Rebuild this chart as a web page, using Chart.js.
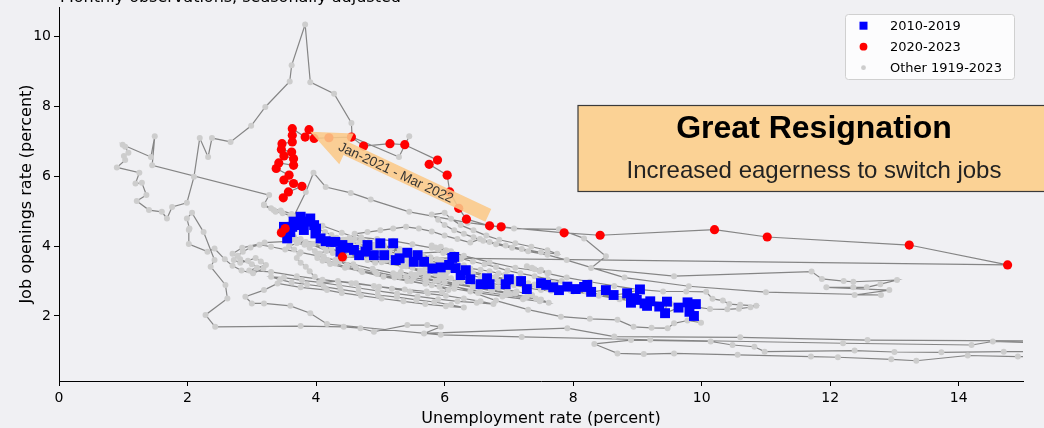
<!DOCTYPE html>
<html>
<head>
<meta charset="utf-8">
<script src="https://cdn.jsdelivr.net/npm/chart.js@4.4.0/dist/chart.umd.min.js"></script>
<style>
  html, body { margin: 0; padding: 0; background: #f0f0f3; }
</style>
</head>
<body>
<canvas id="myChart" width="1044" height="428"></canvas>
<script>
// tick labels
const xTickValues = [0, 2, 4, 6, 8, 10, 12, 14];
const yTickValues = [2, 4, 6, 8, 10];

// [unemployment rate, job openings rate], monthly
const other1919to1945 = [
  [5.45, 7.14], [5.29, 6.55], [4.56, 7.12], [4.55, 7.52], [4.28, 8.36], [3.91, 8.69], [3.83, 10.34],
  [3.62, 9.17], [3.59, 8.71], [3.21, 7.98], [2.99, 7.44], [2.67, 6.98], [2.38, 7.09], [2.32, 6.55],
  [2.19, 7.09], [2.10, 5.98], [1.99, 5.24], [1.76, 5.12], [1.68, 4.79], [1.60, 4.98], [1.40, 5.03],
  [1.21, 5.29], [1.36, 5.46], [1.29, 5.81], [1.19, 5.79], [1.25, 6.10], [0.90, 6.25], [1.03, 6.46],
  [1.01, 6.58], [1.08, 6.67], [1.03, 6.84], [0.99, 6.90], [1.43, 6.55], [1.49, 7.14], [1.45, 6.31],
  [3.27, 5.46], [3.19, 5.19], [3.34, 5.03], [3.65, 4.84], [3.84, 5.55], [3.96, 6.10], [4.15, 5.69],
  [4.54, 5.52], [4.85, 5.33], [5.45, 4.98], [6.36, 4.67], [7.08, 4.50], [7.78, 4.48], [8.17, 4.22],
  [8.51, 3.71], [8.28, 3.37], [9.57, 3.14], [11.71, 3.27], [11.87, 3.06], [12.21, 3.00], [12.36, 2.98],
  [13.04, 3.03], [12.78, 2.91], [12.57, 2.82], [12.36, 2.82], [11.94, 2.82], [12.92, 2.74], [12.38, 2.60],
  [12.79, 2.60], [11.00, 2.68], [9.80, 2.85], [8.80, 3.10], [7.90, 3.60], [7.60, 3.75], [7.30, 3.85],
  [7.05, 3.95], [6.80, 4.05], [6.60, 4.15], [6.45, 4.25], [6.30, 4.35], [6.15, 4.45], [6.00, 4.60],
  [5.90, 4.75], [5.80, 4.90], [6.00, 4.95], [6.10, 4.78], [6.25, 4.60], [6.45, 4.45], [6.65, 4.30],
  [6.85, 4.18], [7.10, 4.08], [7.35, 3.98], [7.60, 3.88], [7.75, 3.78], [7.50, 3.82], [7.20, 3.92],
  [6.95, 4.02], [6.70, 4.12], [6.55, 4.20], [6.40, 4.10], [6.20, 4.20], [6.00, 4.30], [5.80, 4.42],
  [5.60, 4.50], [5.40, 4.55], [5.20, 4.50], [5.00, 4.45], [4.80, 4.40], [4.60, 4.35], [4.70, 4.25],
  [4.95, 4.20], [5.20, 4.15], [5.50, 4.05], [5.80, 3.95], [6.10, 3.85], [5.60, 3.80], [4.90, 3.95],
  [4.30, 4.05], [3.70, 4.15], [3.20, 4.10], [2.85, 3.95], [2.70, 3.78], [2.82, 3.62], [3.00, 3.48],
  [3.18, 3.36], [3.02, 3.22], [2.84, 3.30], [2.70, 3.44], [2.58, 3.62], [2.42, 3.93], [2.31, 3.84],
  [2.02, 4.06], [2.02, 4.46], [2.03, 4.50], [1.99, 4.79], [2.07, 4.95], [2.25, 4.40], [2.42, 3.60],
  [2.36, 3.41], [2.59, 2.89], [2.62, 2.50], [2.28, 2.03], [2.43, 1.69], [3.76, 1.71], [4.43, 1.69],
  [4.69, 1.65], [4.90, 1.55], [5.42, 1.74], [5.73, 1.74], [5.94, 1.69], [5.68, 1.50], [7.91, 1.65],
  [8.64, 1.41], [10.60, 1.39], [12.58, 1.31], [15.80, 1.28], [19.50, 1.00], [24.90, 0.58], [23.00, 0.70],
  [18.50, 0.95], [16.00, 0.99], [14.70, 0.98], [13.73, 0.96], [13.00, 0.97], [12.38, 1.01], [10.98, 0.98],
  [10.82, 1.12], [10.48, 1.17], [10.14, 1.27], [8.90, 1.31], [8.33, 1.20], [8.69, 0.93], [9.10, 0.91],
  [9.57, 0.93], [10.56, 0.89], [11.70, 0.84], [12.12, 0.82], [12.95, 0.76], [13.34, 0.72], [14.14, 0.87],
  [14.92, 0.84], [17.50, 0.80], [19.00, 0.92], [17.00, 1.14], [14.53, 1.27], [14.20, 1.17], [12.20, 1.22],
  [9.20, 1.32], [7.20, 1.40], [5.94, 1.46], [4.17, 1.77], [3.91, 2.08], [3.60, 2.29], [3.19, 2.36],
  [3.00, 2.36], [2.90, 2.55], [3.19, 2.74], [3.40, 2.93], [3.76, 2.82], [4.17, 2.74]
];

const other1946to1979 = [
  [4.40, 2.66], [4.70, 2.58], [5.02, 2.50], [5.36, 2.42], [5.70, 2.34], [6.02, 2.28], [6.30, 2.24],
  [6.10, 2.32], [5.84, 2.40], [5.56, 2.46], [5.26, 2.54], [4.96, 2.60], [4.66, 2.68], [4.38, 2.76],
  [4.12, 2.84], [3.86, 2.90], [3.62, 2.96], [3.44, 3.04], [3.30, 3.12], [3.50, 3.10], [3.78, 3.02],
  [4.06, 2.96], [4.36, 2.88], [4.66, 2.80], [4.96, 2.72], [5.26, 2.64], [5.58, 2.56], [5.90, 2.48],
  [6.20, 2.42], [6.50, 2.38], [6.76, 2.34], [6.56, 2.42], [6.30, 2.50], [6.02, 2.58], [5.74, 2.64],
  [5.46, 2.70], [5.18, 2.78], [4.90, 2.86], [4.62, 2.94], [4.34, 3.00], [4.05, 2.95], [3.98, 3.12],
  [3.90, 3.28], [3.84, 3.41], [3.76, 3.52], [3.70, 3.66], [3.74, 3.78], [3.66, 3.90], [3.58, 4.00],
  [3.70, 4.08], [3.82, 4.04], [3.90, 3.95], [3.98, 3.86], [4.06, 3.78], [4.02, 3.66], [4.10, 3.58],
  [4.22, 3.49], [4.45, 3.38], [4.72, 3.26], [5.05, 3.12], [5.42, 3.00], [5.80, 2.88], [6.15, 2.78],
  [6.52, 2.66], [6.90, 2.56], [7.22, 2.48], [7.48, 2.42], [7.62, 2.38], [7.50, 2.47], [7.28, 2.55],
  [7.02, 2.63], [6.74, 2.72], [6.45, 2.82], [6.18, 2.90], [5.86, 3.00], [5.52, 3.10], [5.20, 3.22],
  [4.88, 3.35], [4.58, 3.48], [4.30, 3.60], [4.02, 3.72], [3.76, 3.82], [3.52, 3.90], [3.30, 3.98],
  [3.12, 4.04], [2.98, 3.96], [2.86, 3.84], [2.78, 3.72], [2.72, 3.60], [2.82, 3.52], [2.94, 3.58],
  [3.06, 3.66], [3.14, 3.56], [3.22, 3.46], [3.08, 3.38], [2.96, 3.30], [3.30, 3.26], [3.70, 3.14],
  [4.10, 3.04], [4.55, 2.94], [4.98, 2.84], [5.38, 2.76], [5.72, 2.70], [5.96, 2.68], [6.06, 2.74],
  [5.92, 2.84], [5.70, 2.92], [5.48, 3.00], [5.22, 3.10], [4.95, 3.20], [4.70, 3.30], [4.48, 3.40],
  [4.30, 3.50], [4.18, 3.60], [4.12, 3.70], [4.04, 3.78], [4.16, 3.86], [4.26, 3.80], [4.34, 3.72],
  [4.44, 3.64], [4.36, 3.56], [4.48, 3.46], [4.62, 3.38], [4.92, 3.26], [5.30, 3.12], [5.72, 2.98],
  [6.15, 2.84], [6.55, 2.70], [6.95, 2.60], [7.25, 2.52], [7.42, 2.50], [7.36, 2.60], [7.12, 2.70],
  [6.84, 2.80], [6.55, 2.90], [6.26, 2.98], [5.98, 3.06], [5.72, 3.14], [5.48, 3.20], [5.32, 3.26],
  [5.26, 3.18], [5.40, 3.12], [5.56, 3.16], [5.70, 3.08], [5.90, 3.02], [6.16, 2.94], [6.44, 2.84],
  [6.72, 2.76], [6.96, 2.68], [7.10, 2.64], [6.98, 2.74], [6.76, 2.84], [6.50, 2.92], [6.22, 3.00],
  [5.96, 3.08], [5.74, 3.16], [5.62, 3.24], [5.54, 3.18], [5.66, 3.30], [5.50, 3.38], [5.34, 3.44],
  [5.18, 3.52], [5.04, 3.58], [4.92, 3.52], [4.80, 3.60], [4.66, 3.68], [4.52, 3.76], [4.38, 3.84],
  [4.24, 3.92], [4.10, 4.00], [3.96, 4.06], [3.84, 4.12], [3.76, 4.20], [3.66, 4.26], [3.56, 4.32],
  [3.48, 4.38], [3.44, 4.44], [3.52, 4.36], [3.60, 4.30], [3.54, 4.24], [3.62, 4.18], [3.72, 4.12],
  [3.90, 4.04], [4.14, 3.94], [4.42, 3.82], [4.72, 3.68], [5.02, 3.54], [5.34, 3.42], [5.62, 3.30],
  [5.86, 3.20], [6.02, 3.12], [6.10, 3.08], [5.96, 3.20], [6.04, 3.26], [5.92, 3.16], [5.84, 3.30],
  [5.72, 3.38], [5.58, 3.48], [5.44, 3.56], [5.30, 3.64], [5.16, 3.72], [5.02, 3.80], [4.90, 3.88],
  [4.82, 3.96], [4.86, 4.04], [4.96, 3.98], [5.06, 3.90], [5.30, 3.76], [5.70, 3.58], [6.20, 3.36],
  [6.80, 3.12], [7.40, 2.90], [7.96, 2.72], [8.40, 2.58], [8.72, 2.48], [8.96, 2.42], [8.86, 2.48],
  [8.64, 2.54], [8.42, 2.62], [8.20, 2.70], [7.96, 2.78], [7.74, 2.86], [7.70, 2.94], [7.82, 3.00],
  [7.60, 3.06], [7.40, 3.14], [7.18, 3.22], [6.98, 3.30], [6.80, 3.40], [6.62, 3.48], [6.44, 3.56],
  [6.26, 3.64], [6.10, 3.72], [5.98, 3.80], [5.90, 3.90], [5.94, 3.98], [6.02, 3.88], [5.86, 3.96],
  [5.80, 4.02]
];

const other1980to2009 = [
  [6.04, 3.86], [6.30, 3.72], [6.70, 3.54], [7.10, 3.38], [7.48, 3.28], [7.62, 3.24], [7.50, 3.32],
  [7.36, 3.38], [7.28, 3.42], [7.40, 3.34], [7.60, 3.22], [7.90, 3.10], [8.26, 2.98], [8.64, 2.86],
  [9.00, 2.76], [9.40, 2.70], [9.76, 2.70], [10.07, 2.69], [10.17, 2.49], [10.33, 2.44], [10.43, 2.34],
  [10.60, 2.32], [10.85, 2.29], [10.76, 2.25], [10.58, 2.21], [10.40, 2.19], [10.13, 2.20], [9.80, 2.28],
  [9.52, 2.34], [9.20, 2.42], [8.90, 2.50], [8.60, 2.58], [8.30, 2.64], [8.00, 2.70], [7.80, 2.76],
  [7.58, 2.82], [7.42, 2.88], [7.30, 2.94], [7.18, 3.00], [7.08, 3.06], [7.00, 3.12], [6.94, 3.18],
  [6.84, 3.22], [6.70, 3.28], [6.56, 3.32], [6.40, 3.36], [6.22, 3.42], [6.06, 3.48], [5.92, 3.52],
  [5.78, 3.58], [5.64, 3.62], [5.50, 3.66], [5.40, 3.70], [5.32, 3.76], [5.26, 3.72], [5.30, 3.66],
  [5.36, 3.60], [5.46, 3.54], [5.70, 3.44], [5.98, 3.34], [6.28, 3.22], [6.56, 3.10], [6.84, 2.98],
  [7.08, 2.88], [7.30, 2.80], [7.50, 2.74], [7.66, 2.72], [7.74, 2.74], [7.60, 2.80], [7.44, 2.86],
  [7.30, 2.92], [7.12, 2.98], [6.94, 3.04], [6.78, 3.10], [6.60, 3.16], [6.44, 3.22], [6.28, 3.28],
  [6.12, 3.34], [5.96, 3.40], [5.82, 3.46], [5.70, 3.52], [5.62, 3.56], [5.54, 3.60], [5.46, 3.66],
  [5.36, 3.72], [5.26, 3.78], [5.14, 3.84], [5.02, 3.90], [4.90, 3.96], [4.78, 4.00], [4.66, 4.06],
  [4.54, 4.12], [4.42, 4.18], [4.32, 4.24], [4.24, 4.32], [4.14, 4.40], [4.04, 4.48], [3.96, 4.56],
  [3.90, 4.64], [3.84, 4.72], [3.72, 4.80], [3.60, 4.88], [3.48, 4.94], [3.37, 4.98], [3.19, 5.17],
  [3.30, 5.08], [3.45, 5.02], [3.62, 4.92], [3.84, 4.78], [4.10, 4.58], [4.40, 4.38], [4.72, 4.18],
  [5.04, 4.00], [5.34, 3.86], [5.60, 3.74], [5.78, 3.66], [5.92, 3.60], [6.04, 3.56], [6.18, 3.50],
  [6.30, 3.45], [6.20, 3.50], [6.08, 3.54], [5.96, 3.58], [5.88, 3.62], [5.78, 3.68], [5.66, 3.74],
  [5.54, 3.80], [5.42, 3.86], [5.30, 3.92], [5.18, 3.96], [5.06, 4.02], [4.94, 4.06], [4.82, 4.12],
  [4.70, 4.16], [4.60, 4.20], [4.52, 4.24], [4.46, 4.18], [4.56, 4.12], [4.44, 4.10], [4.50, 4.02],
  [4.62, 3.96], [4.72, 3.90], [4.90, 3.76], [5.10, 3.60], [5.40, 3.42], [5.70, 3.20], [6.00, 2.96],
  [6.40, 2.70], [6.80, 2.44], [7.30, 2.18], [7.81, 1.98], [8.26, 1.92], [8.69, 1.89], [8.94, 1.69],
  [9.22, 1.66], [9.47, 1.65], [9.57, 1.79], [9.78, 1.87], [9.99, 1.81]
];

const years2010to2019 = [
  [9.88, 2.00], [9.81, 2.12], [9.91, 2.34], [9.78, 2.39], [9.64, 2.24], [9.43, 2.08], [9.46, 2.41],
  [9.34, 2.27], [9.20, 2.42], [9.15, 2.29], [9.11, 2.36], [8.99, 2.46], [8.95, 2.51], [8.90, 2.38],
  [9.04, 2.76], [8.84, 2.65], [8.63, 2.60], [8.51, 2.74], [8.28, 2.69], [8.22, 2.89], [8.17, 2.83],
  [8.04, 2.77], [7.91, 2.84], [7.78, 2.74], [7.69, 2.82], [7.58, 2.89], [7.50, 2.94], [7.28, 2.77],
  [7.19, 3.00], [7.00, 3.05], [6.95, 2.91], [6.70, 2.91], [6.66, 3.08], [6.56, 2.91], [6.40, 3.05],
  [6.25, 3.17], [6.33, 3.31], [6.17, 3.37], [6.07, 3.46], [6.15, 3.69], [6.12, 3.66], [5.94, 3.39],
  [5.81, 3.36], [5.68, 3.55], [5.52, 3.55], [5.58, 3.74], [5.42, 3.81], [5.30, 3.65], [5.24, 3.60],
  [5.20, 4.08], [5.06, 3.74], [5.00, 4.08], [4.90, 3.74], [4.80, 4.03], [4.77, 3.84], [4.67, 3.74],
  [4.59, 3.89], [4.50, 3.95], [4.38, 3.84], [4.41, 4.03], [4.30, 4.12], [4.23, 4.12], [4.15, 4.14],
  [4.07, 4.22], [3.99, 4.36], [4.00, 4.50], [3.97, 4.60], [3.91, 4.79], [3.85, 4.70], [3.81, 4.46],
  [3.73, 4.60], [3.76, 4.84], [3.65, 4.70], [3.63, 4.55], [3.60, 4.40], [3.55, 4.22], [3.50, 4.55]
];

const years2020to2023 = [
  [3.52, 4.50], [3.46, 4.38], [4.41, 3.69], [14.76, 3.46], [13.23, 4.03], [11.02, 4.26], [10.20, 4.47],
  [8.42, 4.31], [7.86, 4.38], [6.88, 4.55], [6.70, 4.58], [6.34, 4.77], [6.22, 5.08], [6.08, 5.55],
  [6.04, 6.03], [5.76, 6.34], [5.89, 6.46], [5.38, 6.90], [5.15, 6.93], [4.74, 6.86], [4.55, 7.12],
  [4.20, 7.10], [3.97, 7.08], [3.89, 7.33], [3.83, 7.12], [3.63, 7.36], [3.63, 7.17], [3.63, 6.98],
  [3.47, 6.93], [3.46, 6.76], [3.62, 6.69], [3.50, 6.58], [3.65, 6.50], [3.65, 6.31], [3.42, 6.38],
  [3.38, 6.22], [3.58, 6.03], [3.50, 5.89], [3.65, 5.79], [3.78, 5.71], [3.57, 5.55], [3.49, 5.38]
];

const toPoints = (rows) => rows.map(([x, y]) => ({ x: x, y: y }));
const fullPath = [].concat(other1919to1945, other1946to1979, other1980to2009, years2010to2019, years2020to2023);

// annotation anchors (data units)
const arrowTip = [3.91, 7.27];
const arrowTail = [6.68, 4.88];
const arrowLabelAt = [5.24, 6.09];

const axisFont = "DejaVu Sans";
const noteFont = "'Liberation Sans', Arial, sans-serif";

const decorations = {
  id: "decorations",
  beforeDraw(chart) {
    const ctx = chart.ctx;
    ctx.save();
    ctx.fillStyle = "#f0f0f3";
    ctx.fillRect(0, 0, chart.width, chart.height);
    ctx.restore();
  },
  afterDatasetsDraw(chart) {
    const ctx = chart.ctx;
    const xs = chart.scales.x;
    const ys = chart.scales.y;

    // fat arrow
    const tip = { x: xs.getPixelForValue(arrowTip[0]), y: ys.getPixelForValue(arrowTip[1]) };
    const tail = { x: xs.getPixelForValue(arrowTail[0]), y: ys.getPixelForValue(arrowTail[1]) };
    const dx = tail.x - tip.x, dy = tail.y - tip.y;
    const len = Math.hypot(dx, dy);
    const ux = dx / len, uy = dy / len;
    const px = -uy, py = ux;
    const headLen = 40, headHalf = 17, bodyHalf = 7;
    const bx = tip.x + ux * headLen, by = tip.y + uy * headLen;
    ctx.save();
    ctx.beginPath();
    ctx.moveTo(tip.x, tip.y);
    ctx.lineTo(bx + px * headHalf, by + py * headHalf);
    ctx.lineTo(bx + px * bodyHalf, by + py * bodyHalf);
    ctx.lineTo(tail.x + px * bodyHalf, tail.y + py * bodyHalf);
    ctx.lineTo(tail.x - px * bodyHalf, tail.y - py * bodyHalf);
    ctx.lineTo(bx - px * bodyHalf, by - py * bodyHalf);
    ctx.lineTo(bx - px * headHalf, by - py * headHalf);
    ctx.closePath();
    ctx.fillStyle = "rgba(250, 200, 135, 0.88)";
    ctx.fill();

    const lx = xs.getPixelForValue(arrowLabelAt[0]);
    const ly = ys.getPixelForValue(arrowLabelAt[1]);
    ctx.translate(lx, ly);
    ctx.rotate(Math.atan2(dy, dx));
    ctx.fillStyle = "#333";
    ctx.font = "13.5px " + noteFont;
    ctx.textAlign = "center";
    ctx.textBaseline = "middle";
    ctx.fillText("Jan-2021 - Mar 2022", 0, 0);
    ctx.restore();

    // Great Resignation box
    ctx.save();
    const left = 578, top = 105.5, right = 1050, bottom = 191.5;
    ctx.fillStyle = "#fbd295";
    ctx.fillRect(left, top, right - left, bottom - top);
    ctx.strokeStyle = "#3a3a3a";
    ctx.lineWidth = 1.2;
    ctx.strokeRect(left, top, right - left, bottom - top);
    ctx.fillStyle = "#000";
    ctx.textAlign = "center";
    ctx.textBaseline = "alphabetic";
    ctx.font = "bold 32px " + noteFont;
    ctx.fillText("Great Resignation", 814, 138);
    ctx.fillStyle = "#222";
    ctx.font = "24px " + noteFont;
    ctx.fillText("Increased eagerness to switch jobs", 814, 178);
    ctx.restore();
  },
  afterDraw(chart) {
    const ctx = chart.ctx;
    ctx.save();
    // caption at the top, cut off by the frame
    ctx.fillStyle = "#000";
    ctx.font = "16px " + axisFont;
    ctx.textBaseline = "alphabetic";
    ctx.fillText("Monthly observations, seasonally adjusted", 60, 2);

    // legend
    const lx = 845.5, ly = 14.5, lw = 169, lh = 65;
    ctx.beginPath();
    ctx.roundRect(lx, ly, lw, lh, 3);
    ctx.fillStyle = "rgba(255,255,255,0.8)";
    ctx.fill();
    ctx.strokeStyle = "#d0d0d0";
    ctx.lineWidth = 1;
    ctx.stroke();

    const ds = chart.data.datasets;
    const rows = [ds[1], ds[0], ds[2]];
    ctx.font = "13px " + axisFont;
    ctx.textBaseline = "middle";
    rows.forEach((d, i) => {
      const cy = 25.7 + i * 21;
      if (i === 0) {
        ctx.fillStyle = d.backgroundColor;
        ctx.fillRect(859.5, cy - 4, 8, 8);
      } else if (i === 1) {
        ctx.fillStyle = d.backgroundColor;
        ctx.beginPath(); ctx.arc(863.5, cy, 3.9, 0, Math.PI * 2); ctx.fill();
      } else {
        ctx.fillStyle = d.pointBackgroundColor;
        ctx.beginPath(); ctx.arc(863.5, cy, 2.4, 0, Math.PI * 2); ctx.fill();
      }
      ctx.fillStyle = "#000";
      ctx.fillText(d.label, 890, cy + 0.5);
    });
    ctx.restore();
  }
};

new Chart("myChart", {
  type: "scatter",
  data: {
    datasets: [
      {
        label: "2020-2023",
        data: toPoints(years2020to2023),
        pointStyle: "circle",
        pointRadius: 4.6,
        pointHoverRadius: 4.6,
        backgroundColor: "#ff0000",
        borderWidth: 0,
        order: 1,
      },
      {
        label: "2010-2019",
        data: toPoints(years2010to2019),
        pointStyle: "rect",
        pointRadius: 7,
        pointHoverRadius: 7,
        backgroundColor: "#0000ff",
        borderWidth: 0,
        order: 2,
      },
      {
        label: "Other 1919-2023",
        data: toPoints(fullPath),
        showLine: true,
        borderColor: "#858585",
        borderWidth: 1.2,
        pointRadius: 3,
        pointHoverRadius: 3,
        pointBackgroundColor: "#cdcdcd",
        pointBorderWidth: 0,
        order: 3,
      },
    ],
  },
  options: {
    responsive: false,
    animation: false,
    events: [],
    layout: { padding: { left: 0, right: 21, top: 7, bottom: 0 } },
    plugins: {
      legend: { display: false },
      tooltip: { enabled: false },
    },
    scales: {
      x: {
        type: "linear",
        min: 0,
        max: 15,
        afterBuildTicks: (scale) => {
          scale.ticks = xTickValues.map((v) => ({ value: v }));
        },
        afterFit: (scale) => {
          scale.height = 47;
        },
        ticks: {
          font: { family: axisFont, size: 14 },
          color: "#000",
          padding: 4,
          maxRotation: 0,
        },
        grid: { display: true, drawOnChartArea: false, drawTicks: true, tickLength: 5, color: "#000" },
        border: { display: true, color: "#000", width: 1 },
        title: {
          display: true,
          text: "Unemployment rate (percent)",
          font: { family: axisFont, size: 16 },
          color: "#000",
          padding: { top: 0, bottom: 0 },
        },
      },
      y: {
        type: "linear",
        min: 0.14,
        max: 10.84,
        afterBuildTicks: (scale) => {
          scale.ticks = yTickValues.map((v) => ({ value: v }));
        },
        afterFit: (scale) => {
          scale.width = 59;
          scale.paddingTop = 0;
          scale.paddingBottom = 0;
        },
        ticks: {
          font: { family: axisFont, size: 14 },
          color: "#000",
          padding: 3,
        },
        grid: { display: true, drawOnChartArea: false, drawTicks: true, tickLength: 5, color: "#000" },
        border: { display: true, color: "#000", width: 1 },
        title: {
          display: true,
          text: "Job openings rate (percent)",
          font: { family: axisFont, size: 16 },
          color: "#000",
          padding: { top: 17, bottom: 0 },
        },
      },
    },
  },
  plugins: [decorations],
});
</script>
</body>
</html>
